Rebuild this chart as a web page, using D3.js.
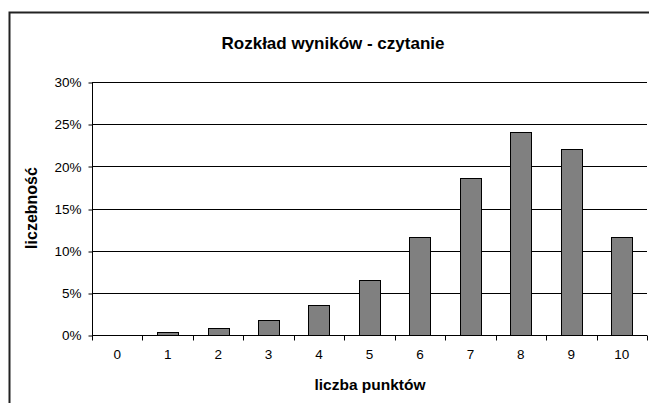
<!DOCTYPE html>
<html>
<head>
<meta charset="utf-8">
<script src="https://cdn.jsdelivr.net/npm/d3@7"></script>
<style>
  body { margin: 0; background: #fff; }
  svg { display: block; font-family: 'Liberation Sans', Arial, sans-serif; }
</style>
</head>
<body>
<svg id="chart" width="649" height="403"></svg>
<script>
const categories = ['0', '1', '2', '3', '4', '5', '6', '7', '8', '9', '10']
const values = [0, 0.3, 0.8, 1.8, 3.5, 6.5, 11.6, 18.6, 24.1, 22.0, 11.6]
const yTicks = [0, 5, 10, 15, 20, 25, 30]

const svg = d3.select('#chart')
const margin = { left: 92, right: 2, top: 82, bottom: 68 }
const width = 649, height = 403

// outer chart frame (runs off the right and bottom edges)
svg.append('rect')
  .attr('x', 9.5).attr('y', 12.5)
  .attr('width', 700).attr('height', 500)
  .attr('fill', 'none').attr('stroke', '#222').attr('stroke-width', 2)

let x = d3.scaleBand()
  .domain(categories)
  .range([margin.left, width - margin.right])
  .paddingInner(0.58).paddingOuter(0.29)
let xb = d3.scaleBand().domain(categories).range([margin.left, width - margin.right])
let y = d3.scaleLinear().domain([0, 30]).range([height - margin.bottom, margin.top])

// gridlines
svg.append('g')
  .selectAll('line')
  .data(yTicks.filter(d => d > 0))
  .join('line')
  .attr('x1', margin.left).attr('x2', width - margin.right)
  .attr('y1', d => Math.round(y(d)) + 0.5).attr('y2', d => Math.round(y(d)) + 0.5)
  .attr('stroke', '#000')

// bars
svg.append('g')
  .selectAll('rect')
  .data(values)
  .join('rect')
  .attr('x', (d, i) => Math.round(x(categories[i])) + 0.5)
  .attr('width', Math.round(x.bandwidth()))
  .attr('y', d => Math.round(y(d)) + 0.5)
  .attr('height', d => Math.round(y(0)) - Math.round(y(d)))
  .attr('fill', '#808080')
  .attr('stroke', '#000')
  .style('display', d => d > 0 ? null : 'none')

// y axis
let yAxis = svg.append('g')
  .attr('transform', 'translate(' + (margin.left + 0.5) + ',0.5)')
  .call(d3.axisLeft(y).tickValues(yTicks).tickSize(4).tickPadding(7).tickFormat(d => d + '%'))
yAxis.select('.domain').attr('d', 'M0,' + Math.round(y(30)) + 'V' + Math.round(y(0)))
yAxis.selectAll('.tick line').attr('transform', d => 'translate(0,' + (Math.round(y(d)) - y(d)) + ')')
yAxis.selectAll('text').attr('font-size', 13.5).attr('fill', '#000')
  .attr('font-family', 'Liberation Sans, Arial, sans-serif')

// x axis
let x0 = Math.round(y(0)) + 0.5
svg.append('line')
  .attr('x1', margin.left).attr('x2', width - margin.right)
  .attr('y1', x0).attr('y2', x0).attr('stroke', '#000')
let bounds = categories.map(c => xb(c)).concat([xb(categories[categories.length - 1]) + xb.bandwidth()])
svg.append('g')
  .selectAll('line')
  .data(bounds)
  .join('line')
  .attr('x1', d => Math.round(d) + 0.5).attr('x2', d => Math.round(d) + 0.5)
  .attr('y1', x0).attr('y2', x0 + 5)
  .attr('stroke', '#000')
svg.append('g')
  .selectAll('text')
  .data(categories)
  .join('text')
  .attr('x', d => xb(d) + xb.bandwidth() / 2)
  .attr('y', 359)
  .attr('text-anchor', 'middle')
  .attr('font-size', 13.5)
  .text(d => d)

// titles
svg.append('text')
  .attr('x', 333).attr('y', 49)
  .attr('text-anchor', 'middle')
  .attr('font-size', 17).attr('font-weight', 'bold')
  .text('Rozkład wyników - czytanie')
svg.append('text')
  .attr('x', 370).attr('y', 390)
  .attr('text-anchor', 'middle')
  .attr('font-size', 15.5).attr('font-weight', 'bold')
  .text('liczba punktów')
svg.append('text')
  .attr('transform', 'translate(37,208) rotate(-90)')
  .attr('text-anchor', 'middle')
  .attr('font-size', 16).attr('font-weight', 'bold')
  .text('liczebność')
</script>
</body>
</html>
